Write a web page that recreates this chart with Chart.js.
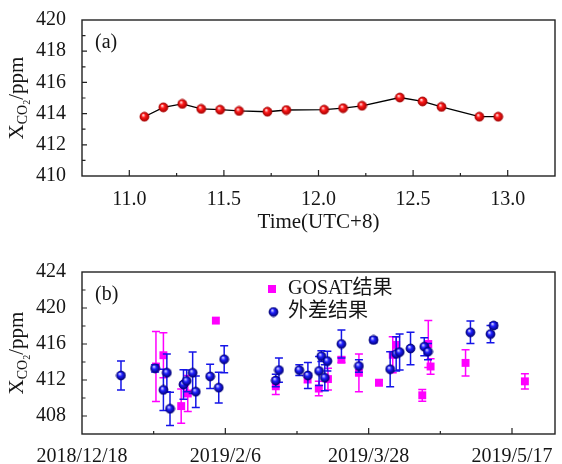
<!DOCTYPE html>
<html>
<head>
<meta charset="utf-8">
<script src="https://cdn.jsdelivr.net/npm/chart.js@4.4.1/dist/chart.umd.min.js"></script>
<style>
  body { margin: 0; background: #fff; }
  canvas { display: block; }
</style>
</head>
<body>
<canvas id="chartA" width="562" height="240"></canvas>
<canvas id="chartB" width="562" height="224"></canvas>
<script>
// (a) one day of XCO2 against local time
const timeA = [11.08, 11.18, 11.28, 11.38, 11.48, 11.58, 11.73, 11.83, 12.03, 12.13, 12.23, 12.43, 12.55, 12.65, 12.85, 12.95];
const xco2A = [413.8, 414.4, 414.62, 414.3, 414.25, 414.17, 414.12, 414.23, 414.25, 414.35, 414.5, 415.03, 414.78, 414.43, 413.8, 413.8];

// (b) days counted from 2018/12/18
const dateTickDays = [0, 50, 100, 150];
const dateTickLabels = ['2018/12/18', '2019/2/6', '2019/3/28', '2019/5/17'];

const gosatDay = [25.8, 28.4, 34.6, 36.9, 46.7, 67.6, 78.7, 82.6, 85.8, 90.5, 96.6, 103.6, 108.4, 109.6, 118.7, 120.8, 121.6, 133.8, 154.5];
const gosatXco2 = [413.5, 414.75, 409.1, 410.5, 418.6, 411.3, 412.2, 411.05, 412.1, 414.25, 412.8, 411.7, 414.8, 415.9, 410.3, 416.0, 413.5, 413.9, 411.85];
const gosatErr = [3.9, 2.5, 1.9, 2.0, 0, 0.9, 0.5, 0.8, 1.2, 0.3, 2.1, 0.3, 2.0, 0.9, 0.65, 2.6, 0.85, 1.45, 0.85];

const hetDay = [13.6, 25.5, 28.4, 29.6, 30.7, 35.4, 36.5, 38.6, 39.7, 44.7, 47.7, 49.6, 67.6, 68.7, 75.8, 78.8, 82.7, 83.5, 84.7, 85.6, 90.5, 96.6, 101.7, 107.5, 109.6, 110.8, 114.6, 119.4, 120.7, 135.5, 142.5, 143.6];
const hetXco2 = [412.5, 413.3, 410.9, 412.8, 408.8, 411.5, 411.9, 412.8, 410.7, 412.4, 411.15, 414.3, 411.95, 413.1, 413.1, 412.5, 413.0, 414.65, 412.25, 414.1, 416.0, 413.55, 416.45, 413.2, 414.9, 415.1, 415.5, 415.7, 415.15, 417.3, 417.1, 418.05];
const hetErr = [1.6, 0.4, 2.3, 2.1, 1.85, 1.65, 1.2, 2.3, 1.75, 1.35, 1.7, 1.5, 0.7, 1.35, 0.6, 1.45, 1.6, 0.6, 1.45, 1.1, 1.55, 0.7, 0.3, 1.95, 1.9, 2.0, 1.8, 1.0, 0.9, 1.25, 0.95, 0.3];

const SERIF = '"Liberation Serif", "DejaVu Serif", serif';
const CJK = '"Liberation Serif", "Noto Sans CJK SC", serif';
const tickFont = { family: SERIF, size: 20 };
const ink = '#151515';

function makeBall(r, light, base, dark) {
    const c = document.createElement('canvas');
    const s = Math.ceil(2 * r + 2);
    c.width = c.height = s;
    const g = c.getContext('2d');
    const m = s / 2;
    const grad = g.createRadialGradient(m - r * 0.3, m - r * 0.4, r * 0.08, m, m, r);
    grad.addColorStop(0, light);
    grad.addColorStop(0.4, base);
    grad.addColorStop(1, dark);
    g.fillStyle = grad;
    g.beginPath();
    g.arc(m, m, r, 0, Math.PI * 2);
    g.fill();
    g.lineWidth = 0.8;
    g.strokeStyle = dark;
    g.stroke();
    return c;
}
const redBall = makeBall(4.5, '#ffe6e6', '#ff1a1a', '#a80000');
const blueBall = makeBall(4.5, '#d8d8ff', '#2020ff', '#00007a');

const pts = (xs, ys) => xs.map((x, i) => ({ x: x, y: ys[i] }));

// frame, inward ticks, y title with subscripts, panel letter
function decorPlugin(letter, drawLegend) {
    return {
        id: 'decor' + letter,
        afterDraw(chart) {
            const { ctx, chartArea: a, scales } = chart;
            ctx.save();
            ctx.strokeStyle = '#222';
            ctx.lineWidth = 1.4;
            ctx.strokeRect(a.left, a.top, a.right - a.left, a.bottom - a.top);
            ctx.lineWidth = 1.2;
            ctx.beginPath();
            scales.x.ticks.forEach(t => {
                const px = scales.x.getPixelForValue(t.value);
                if (px < a.left + 1 || px > a.right - 1) return;
                const len = t.label !== '' ? 6 : 3;
                ctx.moveTo(px, a.bottom);
                ctx.lineTo(px, a.bottom - len);
            });
            scales.y.ticks.forEach(t => {
                const py = scales.y.getPixelForValue(t.value);
                if (py < a.top + 1 || py > a.bottom - 1) return;
                const len = t.label !== '' ? 5 : 3.5;
                ctx.moveTo(a.left, py);
                ctx.lineTo(a.left + len, py);
            });
            ctx.stroke();

            // y title: X_{CO2}/ppm
            ctx.fillStyle = ink;
            ctx.translate(16, (a.top + a.bottom) / 2);
            ctx.rotate(-Math.PI / 2);
            const parts = [
                { t: 'X', f: 21, dy: 0 },
                { t: 'CO', f: 14, dy: 4 },
                { t: '2', f: 10, dy: 7 },
                { t: '/ppm', f: 21, dy: 0 }
            ];
            let total = 0;
            parts.forEach(p => { ctx.font = p.f + 'px ' + SERIF; p.w = ctx.measureText(p.t).width; total += p.w; });
            let x = -total / 2;
            ctx.textBaseline = 'alphabetic';
            parts.forEach(p => { ctx.font = p.f + 'px ' + SERIF; ctx.fillText(p.t, x, 7 + p.dy); x += p.w; });
            ctx.restore();

            ctx.save();
            ctx.fillStyle = ink;
            ctx.font = '20px ' + SERIF;
            ctx.textBaseline = 'middle';
            ctx.fillText('(' + letter + ')', a.left + 13, a.top + 23);
            if (drawLegend) {
                ctx.fillStyle = '#ff00ff';
                ctx.fillRect(272 - 4, a.top + 17 - 4, 8, 8);
                ctx.drawImage(blueBall, 273.5 - blueBall.width / 2, a.top + 40 - blueBall.height / 2);
                ctx.fillStyle = ink;
                ctx.font = '20px ' + CJK;
                ctx.fillText('GOSAT结果', 288, a.top + 17);
                ctx.fillText('外差结果', 288, a.top + 40);
            }
            ctx.restore();
        }
    };
}

const errorBarPlugin = {
    id: 'errorBars',
    beforeDatasetDraw(chart, args) {
        const ds = chart.data.datasets[args.index];
        if (!ds.errors) return;
        const { ctx, scales } = chart;
        ctx.save();
        ctx.strokeStyle = ds.barColor;
        ctx.lineWidth = 1.5;
        ctx.beginPath();
        ds.data.forEach((p, i) => {
            const e = ds.errors[i];
            if (!e) return;
            const px = scales.x.getPixelForValue(p.x);
            const yTop = scales.y.getPixelForValue(p.y + e);
            const yBot = scales.y.getPixelForValue(p.y - e);
            ctx.moveTo(px, yTop); ctx.lineTo(px, yBot);
            ctx.moveTo(px - 4, yTop); ctx.lineTo(px + 4, yTop);
            ctx.moveTo(px - 4, yBot); ctx.lineTo(px + 4, yBot);
        });
        ctx.stroke();
        ctx.restore();
    }
};

// Panel (a)
new Chart(document.getElementById('chartA').getContext('2d'), {
    type: 'line',
    data: {
        datasets: [{
            data: pts(timeA, xco2A),
            borderColor: '#000',
            borderWidth: 1.3,
            pointStyle: redBall,
            pointRadius: 4.5,
            tension: 0
        }]
    },
    options: {
        responsive: false,
        animation: false,
        layout: { padding: { left: 0, right: 7, top: 14, bottom: 0 } },
        plugins: { legend: { display: false }, tooltip: { enabled: false } },
        scales: {
            x: {
                type: 'linear',
                min: 10.75,
                max: 13.25,
                bounds: 'data',
                grid: { display: false },
                border: { display: false },
                ticks: {
                    stepSize: 0.25,
                    autoSkip: false,
                    maxRotation: 0,
                    padding: 4,
                    color: ink,
                    font: tickFont,
                    callback: v => Math.abs(v * 2 - Math.round(v * 2)) < 1e-6 ? Number(v).toFixed(1) : ''
                },
                title: { display: true, text: 'Time(UTC+8)', color: ink, font: { family: SERIF, size: 21 }, padding: { top: 0, bottom: 5 } },
                afterFit: s => { s.height = 64; }
            },
            y: {
                min: 410,
                max: 420,
                bounds: 'data',
                grid: { display: false },
                border: { display: false },
                ticks: {
                    stepSize: 1,
                    autoSkip: false,
                    padding: 8,
                    color: ink,
                    font: tickFont,
                    callback: v => v % 2 === 0 ? String(v) : ''
                },
                afterFit: s => { s.width = 82; }
            }
        }
    },
    plugins: [decorPlugin('a', false)]
});

// Panel (b)
new Chart(document.getElementById('chartB').getContext('2d'), {
    type: 'scatter',
    data: {
        datasets: [{
            label: '外差结果',
            data: pts(hetDay, hetXco2),
            errors: hetErr,
            barColor: '#1515e8',
            pointStyle: blueBall,
            pointRadius: 4.5
        }, {
            label: 'GOSAT结果',
            data: pts(gosatDay, gosatXco2),
            errors: gosatErr,
            barColor: '#ff00ff',
            pointStyle: 'rect',
            pointRadius: 5.6,
            backgroundColor: '#ff00ff',
            borderColor: '#ff00ff',
            borderWidth: 0
        }]
    },
    options: {
        responsive: false,
        animation: false,
        layout: { padding: { left: 0, right: 7, top: 32, bottom: 0 } },
        plugins: { legend: { display: false }, tooltip: { enabled: false } },
        scales: {
            x: {
                type: 'linear',
                min: 0,
                max: 165,
                bounds: 'data',
                grid: { display: false },
                border: { display: false },
                ticks: {
                    stepSize: 25,
                    includeBounds: false,
                    autoSkip: false,
                    maxRotation: 0,
                    padding: 3,
                    color: ink,
                    font: tickFont,
                    callback: v => {
                        const k = dateTickDays.indexOf(v);
                        return k >= 0 ? dateTickLabels[k] : '';
                    }
                },
                afterFit: s => { s.height = 30; }
            },
            y: {
                min: 406,
                max: 424,
                bounds: 'data',
                grid: { display: false },
                border: { display: false },
                ticks: {
                    stepSize: 2,
                    autoSkip: false,
                    padding: 8,
                    color: ink,
                    font: tickFont,
                    callback: v => (v - 408) % 4 === 0 ? String(v) : ''
                },
                afterFit: s => { s.width = 82; }
            }
        }
    },
    plugins: [errorBarPlugin, decorPlugin('b', true)]
});
</script>
</body>
</html>
